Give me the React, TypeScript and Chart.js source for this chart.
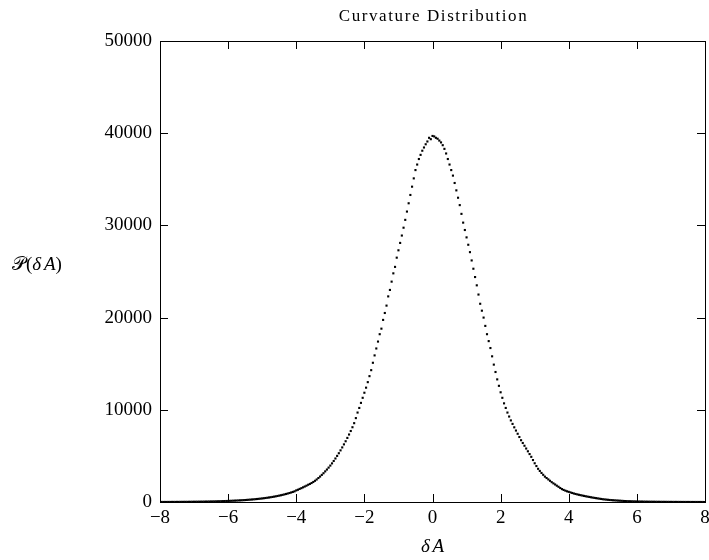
import React, { useEffect, useRef } from 'react';
import { Chart, registerables } from 'chart.js';

Chart.register(...registerables);

// Histogram bins: regular grid starting at -8 with width 0.05
const binStart = -8;
const binWidth = 0.05;

// Counts, x = -8.00 ... 0.00 (161 bins)
const countsLeft = [
  4, 6, 3, 7, 5, 8, 6, 9, 10, 8, 12, 11, 14, 13, 16, 18, 17, 21, 22, 25,
  27, 29, 31, 33, 36, 38, 42, 45, 48, 53, 57, 61, 66, 70, 76, 82, 88, 94, 101, 108,
  116, 124, 131, 140, 149, 158, 168, 179, 190, 201, 214, 227, 241, 256, 272, 289, 306, 325, 344, 365,
  387, 410, 435, 461, 489, 518, 549, 581, 616, 652, 691, 732, 775, 821, 870, 921, 975, 1032, 1093, 1157,
  1260, 1330, 1420, 1500, 1590, 1680, 1770, 1870, 1960, 2060, 2170, 2300, 2440, 2600, 2760, 2940, 3120, 3320, 3520, 3730,
  3950, 4190, 4450, 4720, 5000, 5290, 5600, 5920, 6250, 6590, 6950, 7320, 7700, 8110, 8550, 9100, 9700, 10200, 10750, 11300,
  11850, 12400, 13000, 13650, 14300, 15100, 15900, 16650, 17400, 18200, 18800, 19750, 20500, 21300, 22300, 23000, 23900, 24800, 25500, 26500,
  27300, 28100, 28900, 29750, 30600, 31500, 32400, 33300, 34200, 35100, 36000, 36600, 37200, 37650, 38100, 38450, 38800, 39100, 39500, 39350,
  39700,
];

// Counts, x = 0.05 ... 8.00 (160 bins)
const countsRight = [
  39650, 39500, 39400, 39200, 39000, 38700, 38300, 37800, 37200, 36600, 36000, 35400, 34600, 33800, 33000, 32200, 31250, 30300, 29500, 28700,
  27900, 27100, 26200, 25300, 24400, 23500, 22500, 21500, 20750, 20000, 19100, 18200, 17450, 16700, 15800, 14900, 14100, 13300, 12600, 11900,
  11300, 10700, 10200, 9700, 9270, 8850, 8470, 8100, 7750, 7400, 7050, 6700, 6400, 6100, 5800, 5500, 5200, 4900, 4550, 4200,
  3900, 3600, 3370, 3150, 2950, 2750, 2600, 2450, 2300, 2150, 2020, 1900, 1770, 1650, 1520, 1400, 1310, 1230, 1160, 1100,
  1040, 980, 920, 870, 825, 780, 740, 700, 660, 620, 585, 550, 515, 480, 450, 420, 390, 360, 330, 300,
  280, 260, 240, 220, 205, 190, 177, 165, 152, 140, 127, 115, 105, 95, 87, 80, 74, 68, 62, 57,
  53, 49, 45, 42, 38, 35, 32, 30, 28, 26, 24, 22, 20, 18, 17, 16, 14, 13, 12, 11,
  10, 9, 9, 8, 7, 7, 6, 5, 5, 4, 4, 3, 3, 3, 2, 2, 2, 1, 1, 2,
];

const xTicks = [-8, -6, -4, -2, 0, 2, 4, 6, 8];
const yTicks = [0, 10000, 20000, 30000, 40000, 50000];

const titleText = 'Curvature Distribution';
// Axis labels as [text, italic] pieces
const xLabelParts: [string, boolean][] = [['δ', true], [' ', false], ['A', true]];
const yLabelParts: [string, boolean][] = [['𝒫', false], ['(', false], ['δ', true], [' ', false], ['A', true], [')', false]];

const FONT = '"Liberation Serif", "DejaVu Serif", serif';

function drawParts(ctx: CanvasRenderingContext2D, parts: [string, boolean][], x: number, y: number, size: number, align: 'left' | 'center') {
  const widths = parts.map(([t, it]) => {
    ctx.font = `${it ? 'italic ' : ''}${size}px ${FONT}`;
    return ctx.measureText(t).width + (t === ' ' ? -2 : 0);
  });
  const total = widths.reduce((s, w) => s + w, 0);
  let cx = align === 'center' ? x - total / 2 : x;
  ctx.textAlign = 'left';
  parts.forEach(([t, it], i) => {
    ctx.font = `${it ? 'italic ' : ''}${size}px ${FONT}`;
    ctx.fillText(t, cx, y);
    cx += widths[i];
  });
}

const framePlugin = {
  id: 'framePlugin',
  afterDraw(chart: any) {
    const { ctx, chartArea: a, scales } = chart;
    ctx.save();
    ctx.strokeStyle = '#000';
    ctx.lineWidth = 1;
    ctx.strokeRect(Math.round(a.left) + 0.5, Math.round(a.top) + 0.5, Math.round(a.right - a.left), Math.round(a.bottom - a.top));
    const tl = 8;
    ctx.beginPath();
    for (const v of xTicks) {
      const px = Math.round(scales.x.getPixelForValue(v)) + 0.5;
      ctx.moveTo(px, a.bottom);
      ctx.lineTo(px, a.bottom - tl);
      ctx.moveTo(px, a.top);
      ctx.lineTo(px, a.top + tl);
    }
    for (const v of yTicks) {
      const py = Math.round(scales.y.getPixelForValue(v)) + 0.5;
      ctx.moveTo(a.left, py);
      ctx.lineTo(a.left + tl, py);
      ctx.moveTo(a.right, py);
      ctx.lineTo(a.right - tl, py);
    }
    ctx.stroke();

    ctx.fillStyle = '#000';
    ctx.textBaseline = 'middle';
    ctx.textAlign = 'center';
    ctx.font = `17px ${FONT}`;
    (ctx as any).letterSpacing = '1.6px';
    ctx.fillText(titleText, (a.left + a.right) / 2 + 1, 17);
    (ctx as any).letterSpacing = '0px';

    drawParts(ctx, xLabelParts, (a.left + a.right) / 2, 547, 19, 'center');
    drawParts(ctx, yLabelParts, 12, 265, 19, 'left');
    ctx.restore();
  },
};

export default function App() {
  const ref = useRef<HTMLCanvasElement | null>(null);

  useEffect(() => {
    if (!ref.current) return;
    const points: { x: number; y: number }[] = [];
    countsLeft.forEach((c, i) => points.push({ x: binStart + i * binWidth, y: c }));
    countsRight.forEach((c, i) => points.push({ x: (i + 1) * binWidth, y: c }));

    const chart = new Chart(ref.current, {
      type: 'scatter',
      data: {
        datasets: [
          {
            data: points,
            showLine: false,
            pointStyle: 'rect',
            pointRadius: 1.5,
            pointBackgroundColor: '#000',
            pointBorderWidth: 0,
            pointHoverRadius: 1.5,
          },
        ],
      },
      options: {
        animation: false,
        responsive: false,
        devicePixelRatio: 1,
        events: [],
        layout: { padding: { top: 41, right: 4, bottom: 0, left: 0 } },
        plugins: {
          legend: { display: false },
          tooltip: { enabled: false },
          title: { display: false },
        },
        scales: {
          x: {
            type: 'linear',
            min: -8,
            max: 8,
            afterBuildTicks: (s: any) => {
              s.ticks = xTicks.map((v) => ({ value: v }));
            },
            afterFit: (s: any) => {
              s.height = 58;
              s.paddingLeft = 0;
              s.paddingRight = 0;
            },
            grid: { display: false, drawTicks: false },
            border: { display: false },
            ticks: {
              color: '#000',
              padding: 5,
              maxRotation: 0,
              autoSkip: false,
              font: { family: FONT, size: 19 },
              callback: (v: any) => String(v).replace('-', '\u2212'),
            },
          },
          y: {
            type: 'linear',
            min: 0,
            max: 50000,
            afterBuildTicks: (s: any) => {
              s.ticks = yTicks.map((v) => ({ value: v }));
            },
            afterFit: (s: any) => {
              s.width = 160;
              s.paddingTop = 0;
              s.paddingBottom = 0;
            },
            grid: { display: false, drawTicks: false },
            border: { display: false },
            ticks: {
              color: '#000',
              padding: 8,
              autoSkip: false,
              font: { family: FONT, size: 19 },
              callback: (v: any) => String(v),
            },
          },
        },
      },
      plugins: [framePlugin],
    });
    return () => chart.destroy();
  }, []);

  return (
    <div style={{ position: 'fixed', left: 0, top: 0, width: 709, height: 560, background: '#fff' }}>
      <canvas ref={ref} width={709} height={560} style={{ width: 709, height: 560, display: 'block' }} />
    </div>
  );
}
